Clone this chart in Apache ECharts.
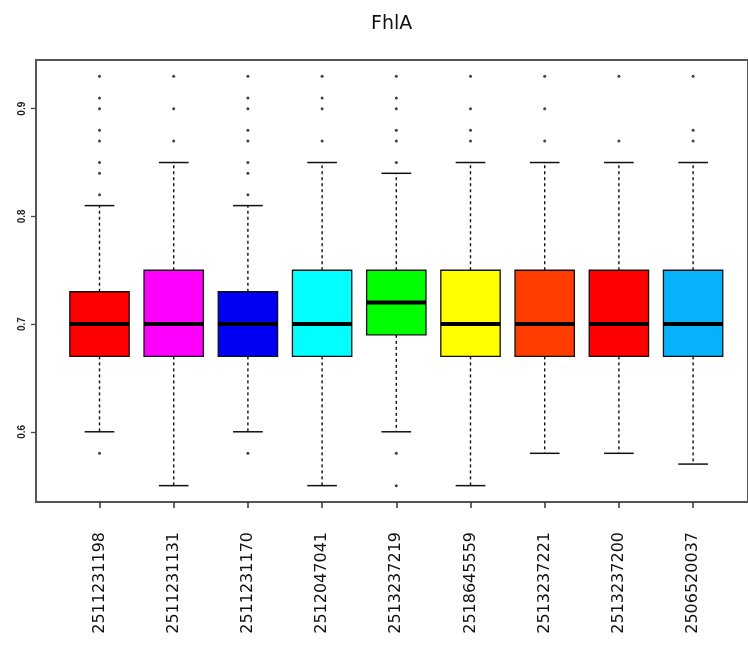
<!DOCTYPE html>
<html>
<head>
<meta charset="utf-8">
<script src="https://cdn.jsdelivr.net/npm/echarts@6/dist/echarts.min.js"></script>
<style>
  html, body { margin: 0; padding: 0; background: #fff; }
  #chart { width: 748px; height: 646px; }
</style>
</head>
<body>
<div id="chart"></div>
<script>
// sample ids along the x axis
const samples = [
  '2511231198', '2511231131', '2511231170', '2512047041', '2513237219',
  '2518645559', '2513237221', '2513237200', '2506520037'
];

// [lower whisker, Q1, median, Q3, upper whisker]
const boxStats = [
  [0.60, 0.67, 0.70, 0.73, 0.81],
  [0.55, 0.67, 0.70, 0.75, 0.85],
  [0.60, 0.67, 0.70, 0.73, 0.81],
  [0.55, 0.67, 0.70, 0.75, 0.85],
  [0.60, 0.69, 0.72, 0.75, 0.84],
  [0.55, 0.67, 0.70, 0.75, 0.85],
  [0.58, 0.67, 0.70, 0.75, 0.85],
  [0.58, 0.67, 0.70, 0.75, 0.85],
  [0.57, 0.67, 0.70, 0.75, 0.85]
];

// outliers per sample
const outliers = [
  [0.93, 0.91, 0.90, 0.88, 0.87, 0.85, 0.84, 0.82, 0.58],
  [0.93, 0.90, 0.87],
  [0.93, 0.91, 0.90, 0.88, 0.87, 0.85, 0.84, 0.82, 0.58],
  [0.93, 0.91, 0.90, 0.87],
  [0.93, 0.91, 0.90, 0.88, 0.87, 0.85, 0.58, 0.55],
  [0.93, 0.90, 0.88, 0.87],
  [0.93, 0.90, 0.87],
  [0.93, 0.87],
  [0.93, 0.88, 0.87]
];

const boxColors = [
  '#ff0000', '#ff00ff', '#0000f5', '#00ffff', '#00ff00',
  '#ffff00', '#ff3d00', '#ff0000', '#08b2fa'
];

const yTicks = [0.6, 0.7, 0.8, 0.9];
const yMin = 0.5348;
const yMax = 0.9452;

const boxData = boxStats.map((s, i) => [i].concat(s));
const outlierData = [];
outliers.forEach((list, i) => list.forEach((v) => outlierData.push([i, v])));

function renderBox(params, api) {
  const i = api.value(0);
  const lo = api.coord([i, api.value(1)]);
  const q1 = api.coord([i, api.value(2)]);
  const med = api.coord([i, api.value(3)]);
  const q3 = api.coord([i, api.value(4)]);
  const hi = api.coord([i, api.value(5)]);
  const band = api.size([1, 0])[0];
  const half = band * 0.4;
  const staple = half / 2;
  const cx = med[0];
  const dashed = { stroke: '#111', lineWidth: 1.4, lineDash: [3, 3] };
  const solid = { stroke: '#111', lineWidth: 1.5 };
  return {
    type: 'group',
    children: [
      { type: 'line', shape: { x1: cx, y1: q3[1], x2: cx, y2: hi[1] }, style: dashed },
      { type: 'line', shape: { x1: cx, y1: q1[1], x2: cx, y2: lo[1] }, style: dashed },
      { type: 'line', shape: { x1: cx - staple, y1: hi[1], x2: cx + staple, y2: hi[1] }, style: solid },
      { type: 'line', shape: { x1: cx - staple, y1: lo[1], x2: cx + staple, y2: lo[1] }, style: solid },
      {
        type: 'rect',
        shape: { x: cx - half, y: q3[1], width: half * 2, height: q1[1] - q3[1] },
        style: { fill: boxColors[params.dataIndex], stroke: '#111', lineWidth: 1.3 }
      },
      {
        type: 'line',
        shape: { x1: cx - half, y1: med[1], x2: cx + half, y2: med[1] },
        style: { stroke: '#000', lineWidth: 4 }
      }
    ]
  };
}

const chart = echarts.init(document.getElementById('chart'), null, { renderer: 'canvas' });

chart.setOption({
  animation: false,
  backgroundColor: '#fff',
  title: {
    text: 'FhlA',
    left: 366,
    top: 10,
    textStyle: { fontFamily: 'DejaVu Sans', fontSize: 19, fontWeight: 'normal', color: '#111' }
  },
  grid: [
    { left: 62.4, width: 667.8, top: 60, bottom: 144 },
    { left: 36, width: 721, top: 60, bottom: 144, show: true, borderColor: '#555', borderWidth: 2 }
  ],
  xAxis: [
    {
      type: 'category',
      gridIndex: 0,
      data: samples,
      boundaryGap: true,
      axisLine: { show: false },
      axisTick: { show: true, alignWithLabel: true, interval: 0, length: 6, lineStyle: { color: '#333', width: 1.5 } },
      axisLabel: {
        interval: 0,
        rotate: 90,
        margin: 30,
        fontFamily: 'DejaVu Sans',
        fontSize: 16,
        color: '#111'
      },
      splitLine: { show: false }
    },
    { type: 'value', gridIndex: 1, show: false, min: 0, max: 1 }
  ],
  yAxis: [
    { type: 'value', gridIndex: 0, show: false, min: yMin, max: yMax },
    {
      type: 'value',
      gridIndex: 1,
      min: yMin,
      max: yMax,
      axisLine: { show: true, lineStyle: { color: '#555', width: 2 } },
      axisTick: { show: true, length: 5, customValues: yTicks, lineStyle: { color: '#444', width: 1.3 } },
      axisLabel: {
        customValues: yTicks,
        rotate: 90,
        margin: 9,
        fontFamily: 'Liberation Sans',
        fontSize: 10,
        fontWeight: 'bold',
        color: '#222',
        formatter: (v) => v.toFixed(1)
      },
      splitLine: { show: false }
    }
  ],
  series: [
    {
      type: 'custom',
      xAxisIndex: 0,
      yAxisIndex: 0,
      renderItem: renderBox,
      encode: { x: 0, y: [1, 2, 3, 4, 5] },
      data: boxData
    },
    {
      type: 'scatter',
      xAxisIndex: 0,
      yAxisIndex: 0,
      symbol: 'circle',
      symbolSize: 3,
      itemStyle: { color: '#111' },
      data: outlierData
    }
  ]
});
</script>
</body>
</html>
